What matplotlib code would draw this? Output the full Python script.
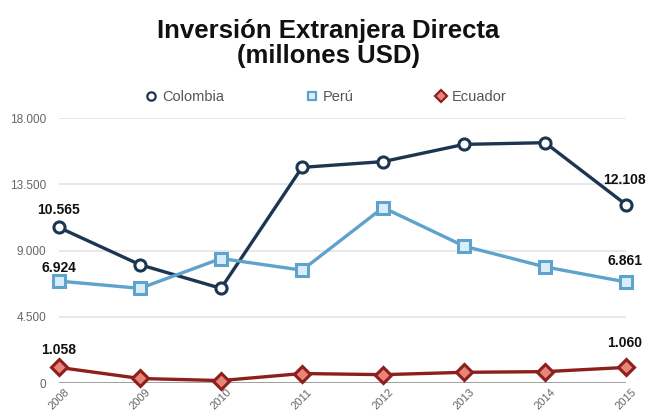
import matplotlib.pyplot as plt
from matplotlib.ticker import FuncFormatter

plt.rcParams['font.family'] = ['Liberation Sans', 'DejaVu Sans']

years = [2008, 2009, 2010, 2011, 2012, 2013, 2014, 2015]
colombia = [10565, 8035, 6430, 14648, 15039, 16209, 16325, 12108]
peru = [6924, 6431, 8455, 7665, 11918, 9298, 7885, 6861]
ecuador = [1058, 308, 165, 644, 567, 727, 772, 1060]
y_ticks = [0, 4500, 9000, 13500, 18000]


def fmt_miles(v, pos=None):
    return f'{int(v):,}'.replace(',', '.')


fig = plt.figure(figsize=(6.46, 4.16), dpi=100)
ax = fig.add_axes([0.0913, 0.0793, 0.878, 0.6370])

# name, values, line colour, marker face, marker, size,
# label offsets (pt) for first / last value
series = [
    ('Colombia', colombia, '#1c3550', 'white', 'o', 8, (10, 15)),
    ('Perú', peru, '#5fa2cc', '#d9eefa', 's', 8, (6.5, 12)),
    ('Ecuador', ecuador, '#8e1f1c', '#e8857a', 'D', 8, (9.5, 14.5)),
]
for name, vals, col, face, mk, ms, (off0, off1) in series:
    ax.plot(years, vals, color=col, lw=2.4, marker=mk, ms=ms,
            markerfacecolor=face, markeredgecolor=col, markeredgewidth=2.2,
            label=name, clip_on=False, zorder=3)
    ax.annotate(fmt_miles(vals[0]), (years[0], vals[0]), xytext=(0, off0),
                textcoords='offset points', ha='center', va='baseline',
                fontsize=10, fontweight='bold', color='#111111')
    ax.annotate(fmt_miles(vals[-1]), (years[-1], vals[-1]), xytext=(-1, off1),
                textcoords='offset points', ha='center', va='baseline',
                fontsize=10, fontweight='bold', color='#111111')

ax.set_xlim(2008, 2015)
ax.set_ylim(0, 18000)
ax.set_yticks(y_ticks)
ax.yaxis.set_major_formatter(FuncFormatter(fmt_miles))
ax.set_xticks(years)
ax.set_xticklabels([str(y) for y in years], rotation=45, ha='center',
                   fontsize=8, color='#666666')
ax.tick_params(axis='y', length=0, labelsize=8.5, labelcolor='#666666', pad=9)
ax.tick_params(axis='x', length=0, pad=3)
ax.grid(axis='y', color='#e6e6e6', lw=1.3)
ax.axhline(0, color='#9a9a9a', lw=1.3, zorder=1)
for s in ax.spines.values():
    s.set_visible(False)
ax.set_axisbelow(True)

fig.text(0.508, 0.895, 'Inversión Extranjera Directa\n(millones USD)',
         ha='center', va='center', fontsize=18.5, fontweight='bold',
         color='#111111', linespacing=1.08)

leg = fig.legend(loc='center', bbox_to_anchor=(0.505, 0.767), ncol=3,
                 frameon=False, fontsize=10.5, columnspacing=5.6,
                 handlelength=0.8, handletextpad=0.35, markerscale=0.75)
for h in leg.legend_handles:
    h.set_linestyle('none')
    h.set_markeredgewidth(1.6)
for t in leg.get_texts():
    t.set_color('#555555')

fig.savefig('out.png', dpi=100)
